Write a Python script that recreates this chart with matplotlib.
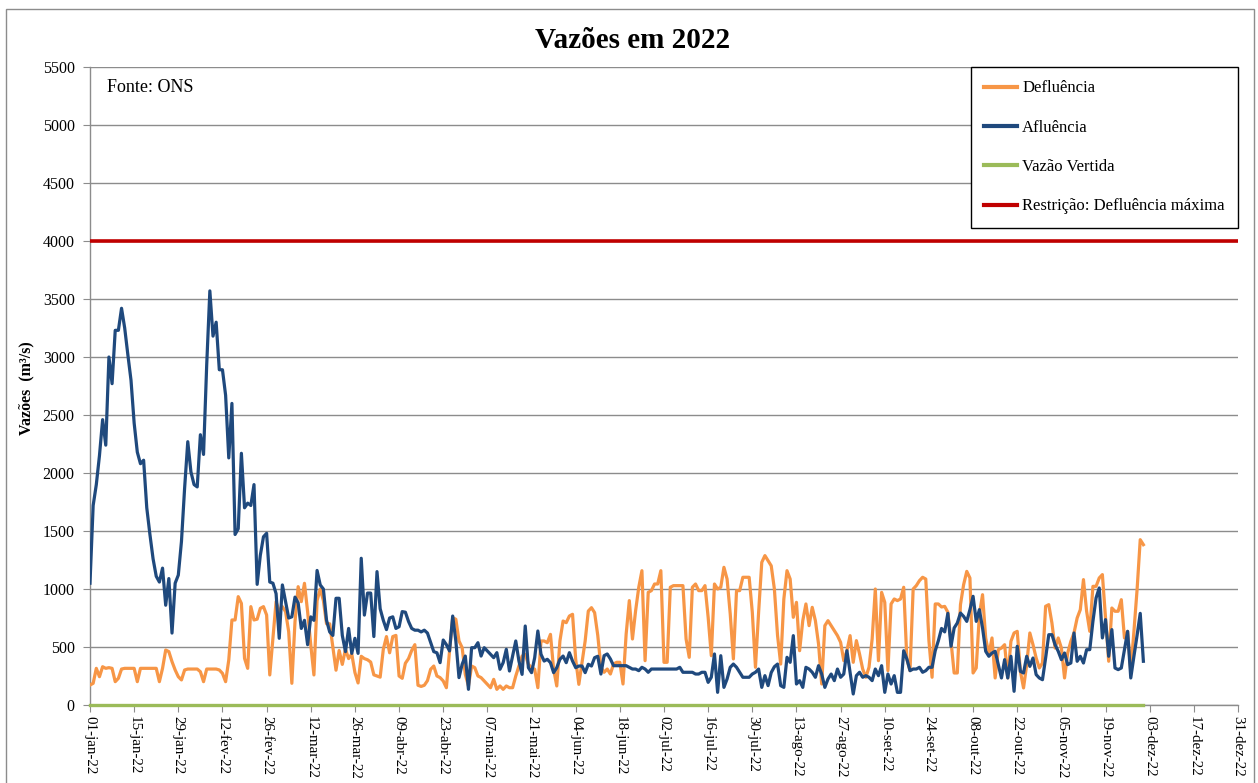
import matplotlib
matplotlib.use("Agg")
import matplotlib.pyplot as plt
from matplotlib.patches import Rectangle
import numpy as np
import pandas as pd

plt.rcParams['font.family'] = ['Liberation Serif', 'DejaVu Serif']

# ---------------- data (m3/s), daily from 01-jan-2022 ----------------
start_date = "2022-01-01"
end_date = "2022-12-31"

afluencia = [
    1050, 1720, 1900, 2150, 2460, 2240, 3000, 2770, 3230, 3230,
    3420, 3250, 3020, 2800, 2430, 2180, 2080, 2110, 1700, 1470,
    1260, 1110, 1060, 1180, 860, 1090, 620, 1050, 1120, 1410,
    1870, 2270, 2010, 1900, 1880, 2330, 2160, 2930, 3570, 3180,
    3300, 2890, 2890, 2670, 2130, 2600, 1470, 1520, 2170, 1700,
    1740, 1720, 1900, 1040, 1290, 1450, 1480, 1060, 1050, 960,
    575, 1035, 890, 750, 760, 930, 880, 660, 730, 520,
    760, 730, 1160, 1035, 1000, 730, 630, 600, 920, 920,
    600, 460, 660, 445, 575, 445, 1265, 775, 965, 965,
    590, 1150, 830, 730, 650, 750, 760, 660, 675, 805,
    800, 720, 660, 645, 645, 630, 645, 620, 540, 460,
    450, 365, 560, 520, 466, 767, 552, 236, 351, 422,
    135, 494, 494, 537, 422, 494, 466, 437, 408, 451,
    308, 365, 480, 293, 422, 552, 379, 264, 681, 322,
    279, 408, 638, 437, 379, 394, 365, 279, 322, 394,
    422, 365, 451, 379, 322, 336, 336, 279, 351, 336,
    408, 420, 267, 425, 440, 397, 339, 339, 339, 339,
    339, 325, 310, 310, 296, 325, 310, 282, 310, 310,
    310, 310, 310, 310, 310, 310, 310, 325, 282, 282,
    282, 282, 267, 267, 282, 282, 195, 239, 440, 109,
    425, 152, 224, 325, 353, 325, 282, 239, 239, 239,
    267, 282, 310, 152, 253, 167, 280, 330, 353, 167,
    152, 411, 368, 598, 181, 210, 152, 325, 310, 282,
    239, 339, 267, 152, 224, 267, 210, 310, 239, 267,
    468, 282, 95, 253, 282, 239, 253, 239, 210, 310,
    253, 339, 109, 267, 181, 253, 109, 109, 468, 397,
    296, 310, 310, 325, 282, 296, 325, 325, 468, 555,
    660, 630, 790, 506, 664, 707, 793, 764, 721, 822,
    937, 721, 822, 664, 463, 420, 448, 463, 348, 233,
    391, 233, 420, 118, 506, 290, 276, 420, 333, 405,
    262, 233, 218, 405, 606, 606, 520, 463, 391, 448,
    348, 362, 621, 377, 420, 362, 477, 477, 721, 923,
    1009, 578, 736, 420, 650, 319, 305, 319, 477, 635,
    233, 420, 600, 790, 377,
]

defluencia = [
    172, 187, 316, 244, 330, 316, 322, 316, 201, 230,
    310, 316, 316, 316, 316, 201, 316, 316, 316, 316,
    316, 316, 201, 316, 474, 460, 374, 302, 244, 216,
    302, 310, 310, 310, 310, 287, 201, 310, 310, 310,
    310, 302, 273, 201, 388, 733, 733, 934, 876, 402,
    316, 848, 733, 740, 833, 848, 776, 259, 575, 891,
    805, 848, 805, 632, 187, 718, 1020, 891, 1049, 805,
    517, 259, 900, 1000, 900, 700, 700, 500, 300, 470,
    350, 480, 400, 440, 280, 190, 420, 400, 390, 370,
    260, 250, 240, 480, 590, 450, 590, 600, 250, 230,
    360, 400, 470, 520, 170, 160, 170, 210, 308, 336,
    250, 236, 207, 149, 466, 753, 739, 552, 494, 264,
    164, 336, 322, 250, 236, 207, 178, 149, 221, 135,
    164, 135, 164, 149, 149, 250, 336, 422, 437, 351,
    322, 308, 149, 552, 552, 537, 609, 308, 164, 552,
    724, 710, 767, 782, 394, 178, 365, 552, 810, 839,
    796, 600, 325, 282, 310, 267, 353, 368, 368, 181,
    612, 900, 569, 813, 1015, 1158, 382, 971, 986, 1043,
    1043, 1158, 368, 368, 1015, 1029, 1029, 1029, 1029, 569,
    411, 1015, 1043, 986, 986, 1029, 756, 425, 1043, 1000,
    1015, 1187, 1086, 785, 397, 986, 986, 1101, 1101, 1101,
    799, 325, 799, 1230, 1288, 1244, 1200, 1000, 600, 353,
    914, 1158, 1086, 756, 885, 468, 727, 871, 684, 842,
    727, 526, 181, 684, 727, 684, 641, 598, 540, 382,
    468, 598, 368, 555, 440, 310, 239, 325, 569, 1000,
    382, 971, 885, 296, 871, 914, 900, 914, 1015, 397,
    296, 1000, 1029, 1072, 1101, 1086, 555, 239, 871, 871,
    845, 850, 800, 549, 276, 276, 865, 1037, 1152, 1095,
    276, 319, 779, 951, 578, 434, 578, 233, 477, 491,
    520, 233, 549, 621, 635, 290, 147, 348, 621, 520,
    405, 319, 362, 851, 865, 707, 491, 578, 491, 233,
    448, 549, 621, 750, 822, 1081, 808, 635, 1023, 1023,
    1095, 1124, 750, 377, 836, 808, 808, 908, 578, 635,
    290, 635, 994, 1425, 1382,
]

vazao_vertida = [0] * len(defluencia)
restricao_defluencia_maxima = 4000

meses = ["jan", "fev", "mar", "abr", "mai", "jun",
         "jul", "ago", "set", "out", "nov", "dez"]

titulo = "Vazões em 2022"
rotulo_y = "Vazões  (m³/s)"
fonte = "Fonte: ONS"
nomes = ["Defluência", "Afluência", "Vazão Vertida", "Restrição: Defluência máxima"]
cores = ["#F79646", "#1F497D", "#9BBB59", "#C00000"]

# ---------------- figure ----------------
W, H = 1258, 783
fig = plt.figure(figsize=(W / 100, H / 100), dpi=100)
ax = fig.add_axes([90 / W, 1 - 705 / H, (1238 - 90) / W, (705 - 67) / H])

datas = pd.date_range(start_date, periods=len(defluencia), freq="D")
ano = pd.date_range(start_date, end_date, freq="D")

ax.plot(datas, defluencia, color=cores[0], lw=2.3, label=nomes[0], zorder=3)
ax.plot(datas, afluencia, color=cores[1], lw=2.3, label=nomes[1], zorder=4)
ax.plot(datas, vazao_vertida, color=cores[2], lw=2.4, label=nomes[2], zorder=5,
        clip_on=False)
ax.plot(ano, [restricao_defluencia_maxima] * len(ano), color=cores[3], lw=2.6,
        label=nomes[3], zorder=6)

ax.set_xlim(ano[0], ano[-1])
ax.set_ylim(0, 5500)
ax.set_yticks(np.arange(0, 5501, 500))
ax.yaxis.grid(True, color="#8c8c8c", lw=1.0)
ax.set_axisbelow(True)

ticks = pd.date_range(start_date, end_date, freq="14D")
ax.set_xticks(ticks)
ax.set_xticklabels([f"{t.day:02d}-{meses[t.month - 1]}-22" for t in ticks],
                   rotation=-90, fontsize=10.8, va="top", ha="center")
ax.tick_params(axis="x", length=5, color="#8c8c8c", pad=3)
ax.tick_params(axis="y", length=5, color="#8c8c8c", labelsize=11.5, pad=6)

for s in ["top", "right"]:
    ax.spines[s].set_visible(False)
for s in ["left", "bottom"]:
    ax.spines[s].set_color("#8c8c8c")
    ax.spines[s].set_linewidth(1.0)

ax.set_ylabel(rotulo_y, fontsize=11.5, fontweight="bold")
ax.yaxis.set_label_coords((26 - 90) / (1238 - 90), (705 - 388) / (705 - 67))
ax.yaxis.label.set_va("center")

fig.text(0.503, 1 - 40 / H, titulo, fontsize=21, fontweight="bold",
         ha="center", va="center")
fig.text(107 / W, 1 - 87 / H, fonte, fontsize=13, ha="left", va="center")

leg = ax.legend(loc="upper right", bbox_to_anchor=(1.0, 1.0), borderaxespad=0,
                fontsize=12, frameon=True, fancybox=False, edgecolor="black",
                framealpha=1, handlelength=2.0, handletextpad=0.3,
                labelspacing=1.4, borderpad=0.8)
leg.get_frame().set_linewidth(1.0)
for l in leg.get_lines():
    l.set_linewidth(3)

# outer chart border
fig.patches.append(Rectangle((6 / W, -0.05), (1254 - 6) / W, 1.05 - 9 / H,
                             transform=fig.transFigure, fill=False,
                             edgecolor="#8c8c8c", lw=1.0))

fig.savefig("out.png", dpi=100)
